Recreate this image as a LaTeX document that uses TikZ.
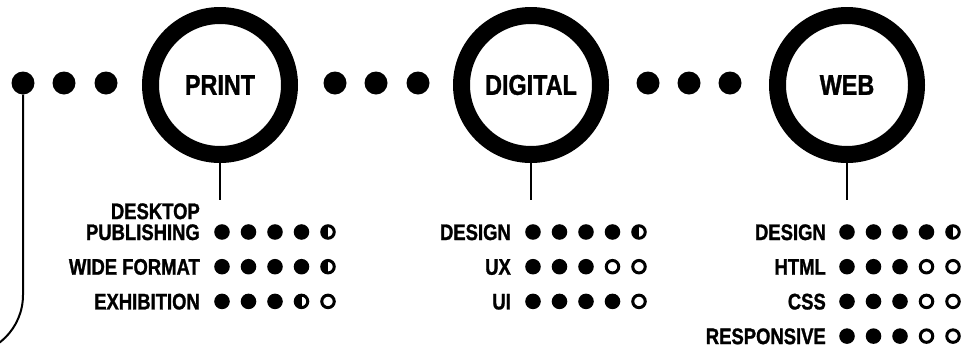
\documentclass[tikz,border=0pt]{standalone}
\usepackage{fontspec}
\setmainfont{Liberation Sans}[FakeStretch=0.82, BoldFeatures={FakeBold=1.2}]
\usetikzlibrary{positioning}

\begin{document}
\begin{tikzpicture}[
    x=1pt, y=-1pt,
    hub/.style={
      circle,
      draw=black,
      line width=17pt,
      minimum size=139pt,
      inner sep=0pt,
      font=\fontsize{28.5}{30}\selectfont\bfseries
    },
    link/.style={circle, fill=black, minimum size=23pt, inner sep=0pt},
    stem/.style={line width=2pt},
    skill/.style={
      anchor=base east,
      inner sep=0pt,
      font=\fontsize{22.5}{24}\selectfont\bfseries
    },
    rdot/.style={circle, draw=black, line width=3pt, minimum size=12.5pt, inner sep=0pt},
    rf/.style={rdot, fill=black},
    ro/.style={rdot, fill=white},
    rh/.style={
      rdot,
      fill=white,
      path picture={\fill[black] (path picture bounding box.south west) rectangle (path picture bounding box.north);}
    }
  ]

    \useasboundingbox (0,0) rectangle (975,354);

    % Main hubs
    \node[hub] (print) at (220,85) {PRINT};
    \node[hub] (digital) at (531,85) {DIGITAL};
    \node[hub] (web) at (847,85) {WEB};

    % Linking dots
    \foreach \x [count=\i] in {23, 64, 106} {
      \node[link] (a\i) at (\x,83) {};
    }
    \foreach \x [count=\i] in {335, 376, 418} {
      \node[link] (b\i) at (\x,83) {};
    }
    \foreach \x [count=\i] in {648, 689, 730} {
      \node[link] (c\i) at (\x,83) {};
    }

    % Tail leaving the first dot
    \coordinate (tail) at (-60,355);
    \draw[stem, rounded corners=60pt] (a1) -- (a1 |- tail) -- (tail);

    % Stems below the hubs
    \coordinate[below=37pt of print] (printtip);
    \coordinate[below=37pt of digital] (digitaltip);
    \coordinate[below=37pt of web] (webtip);
    \draw[stem] (print) -- (printtip);
    \draw[stem] (digital) -- (digitaltip);
    \draw[stem] (web) -- (webtip);

    % Print skills
    \foreach \lbl/\pat [count=\r] in {
      {\shortstack[r]{DESKTOP\\[2pt]PUBLISHING}}/{f,f,f,f,h},
      {WIDE FORMAT}/{f,f,f,f,h},
      {EXHIBITION}/{f,f,f,h,o}} {
      \node[skill] (print-\r) at (200, 205.3+34.7*\r) {\lbl};
      \foreach \s [count=\c] in \pat {
        \node[r\s] (print-\r-\c) at (195.5+26.5*\c, 197.3+34.7*\r) {};
      }
    }

    % Digital skills
    \foreach \lbl/\pat [count=\r] in {
      {DESIGN}/{f,f,f,f,h},
      {UX}/{f,f,f,o,o},
      {UI}/{f,f,f,f,o}} {
      \node[skill] (digital-\r) at (511, 205.3+34.7*\r) {\lbl};
      \foreach \s [count=\c] in \pat {
        \node[r\s] (digital-\r-\c) at (506.5+26.5*\c, 197.3+34.7*\r) {};
      }
    }

    % Web skills
    \foreach \lbl/\pat [count=\r] in {
      {DESIGN}/{f,f,f,f,h},
      {HTML}/{f,f,f,o,o},
      {CSS}/{f,f,f,o,o},
      {RESPONSIVE}/{f,f,f,o,o}} {
      \node[skill] (web-\r) at (826, 205.3+34.7*\r) {\lbl};
      \foreach \s [count=\c] in \pat {
        \node[r\s] (web-\r-\c) at (820.5+26.5*\c, 197.3+34.7*\r) {};
      }
    }

  \end{tikzpicture}
\end{document}
